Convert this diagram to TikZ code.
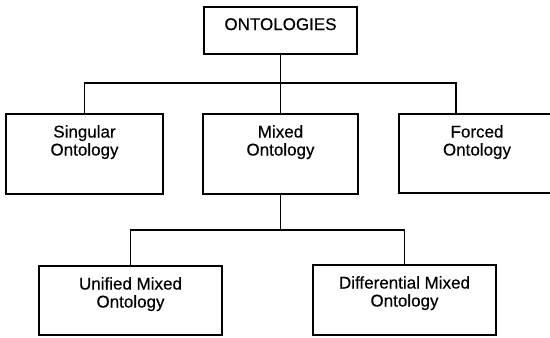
\documentclass[tikz,border=0pt]{standalone}
\usepackage{fontspec}
\setmainfont{Liberation Sans}
\newfontfamily\boxfont{Liberation Sans}[FakeBold=0.35]
\begin{document}
\begin{tikzpicture}[x=1pt,y=-1pt,
  box/.style={draw, line width=1.7pt, minimum height=80pt, inner sep=0pt, outer sep=0pt},
  caption/.style={anchor=north, align=center, inner sep=0pt, yshift=-11pt,
    font=\boxfont\fontsize{17}{18}\selectfont},
  link/.style={line width=1.7pt}]
  \useasboundingbox (0,0) rectangle (550,338);
  \clip (0,0) rectangle (550,338);

  % root and first level
  \node[box, minimum width=153pt, minimum height=47pt,
        label={[caption]north:ONTOLOGIES}] (ont) at (280.5,30.5) {};
  \node[box, minimum width=157pt,
        label={[caption]north:{Singular\\Ontology}}] (sing) at (84.5,154) {};
  \node[box, minimum width=155pt,
        label={[caption]north:{Mixed\\Ontology}}] (mix) at (280.5,154) {};
  \node[box, minimum width=156pt, minimum height=79pt,
        label={[caption]north:{Forced\\Ontology}}] (forc) at (477,153.5) {};

  % second level under the mixed ontology
  \node[box, minimum width=183pt, minimum height=69pt,
        label={[caption]north:{Unified Mixed\\Ontology}}] (uni) at (130.5,300.5) {};
  \node[box, minimum width=183pt, minimum height=70pt,
        label={[caption]north:{Differential Mixed\\Ontology}}] (diff) at (404.5,300) {};

  % connector rails
  \coordinate (bar1) at (0,83);
  \coordinate (bar2) at (0,230);
  \coordinate (fc) at (456,114);

  \draw[link] (ont.south) -- (ont.south |- bar1);
  \draw[link] (sing.north) |- (fc |- bar1) -- (fc);
  \draw[link] (ont.south |- bar1) -- (mix.north);

  \draw[link] (mix.south) -- (mix.south |- bar2);
  \draw[link] (uni.north) |- (diff.north |- bar2) -- (diff.north);
\end{tikzpicture}
\end{document}
